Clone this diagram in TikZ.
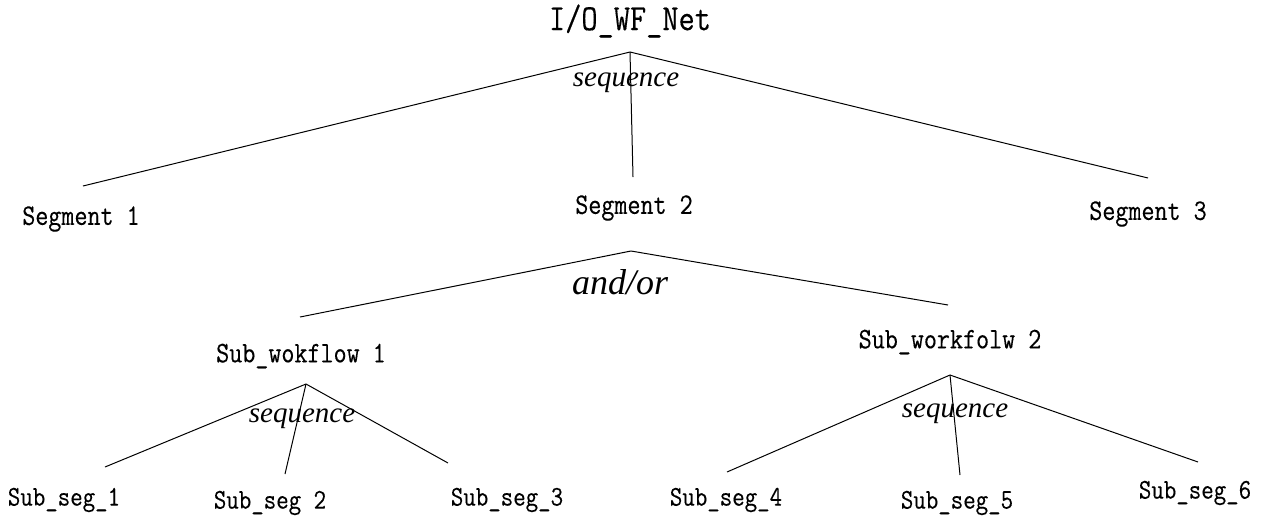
\documentclass[tikz,border=0pt]{standalone}
\usepackage{fontspec}
\newfontfamily\tms{Liberation Serif}
\newfontfamily\mono{Latin Modern Mono}[FakeStretch=0.85, FakeBold=0.3]
\tikzset{
  lbl/.style={inner sep=0pt, anchor=center, font=\mono\fontsize{29.8}{29.8}\selectfont},
  toplbl/.style={lbl, font=\mono\fontsize{37}{37}\selectfont},
  sublbl/.style={lbl, font=\mono\fontsize{28.5}{28.5}\selectfont},
  rel/.style={inner sep=0pt, anchor=center, font=\tms\itshape\fontsize{29}{29}\selectfont},
  relbig/.style={rel, font=\tms\itshape\fontsize{36}{36}\selectfont},
  edge/.style={line width=1pt, black}
}
\begin{document}
\begin{tikzpicture}[x=1pt,y=-1pt]
\useasboundingbox (0,0) rectangle (1271,523);
% labels
\node[toplbl] (root) at (630,21) {I/O\_WF\_Net};
\node[lbl] (s1) at (81,219) {Segment 1};
\node[lbl] (s2) at (634,208) {Segment 2};
\node[lbl] (s3) at (1148,214) {Segment 3};
\node[lbl] (w1) at (301,356) {Sub\_wokflow 1};
\node[lbl] (w2) at (950,342) {Sub\_workfolw 2};
\node[sublbl] (q1) at (64,500) {Sub\_seg\_1};
\node[sublbl] (q2) at (270,503) {Sub\_seg 2};
\node[sublbl] (q3) at (507,500) {Sub\_seg\_3};
\node[sublbl] (q4) at (726,500) {Sub\_seg\_4};
\node[sublbl] (q5) at (957,503) {Sub\_seg\_5};
\node[sublbl] (q6) at (1195,493) {Sub\_seg\_6};
% relation labels
\node[rel] (r0) at (626,83) {sequence};
\node[relbig] (r1) at (620,282) {and/or};
\node[rel] (r2) at (302,419) {sequence};
\node[rel] (r3) at (955,414) {sequence};
% connector points
\coordinate (a0) at (630,52);
\coordinate (e01) at (83,186);
\coordinate (e02) at (633,177);
\coordinate (e03) at (1148,178);
\coordinate (a1) at (631,251);
\coordinate (e11) at (300,317);
\coordinate (e12) at (948,305);
\coordinate (a2) at (306,384);
\coordinate (e21) at (105,467);
\coordinate (e22) at (285,474);
\coordinate (e23) at (448,463);
\coordinate (a3) at (950,375);
\coordinate (e31) at (727,472);
\coordinate (e32) at (960,475);
\coordinate (e33) at (1198,462);
% connectors
\draw[edge] (a0) -- (e01);
\draw[edge] (a0) -- (e02);
\draw[edge] (a0) -- (e03);
\draw[edge] (a1) -- (e11);
\draw[edge] (a1) -- (e12);
\draw[edge] (a2) -- (e21);
\draw[edge] (a2) -- (e22);
\draw[edge] (a2) -- (e23);
\draw[edge] (a3) -- (e31);
\draw[edge] (a3) -- (e32);
\draw[edge] (a3) -- (e33);
\end{tikzpicture}
\end{document}
